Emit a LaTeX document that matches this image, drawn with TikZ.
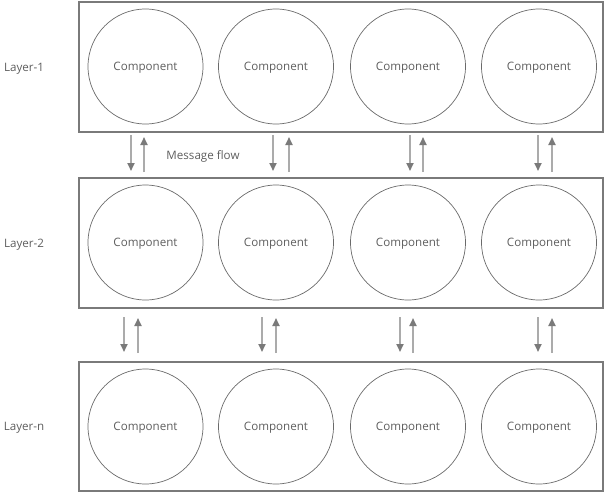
\documentclass[tikz,border=0pt]{standalone}
\usepackage{fontspec}
\setmainfont{Open Sans}
\usetikzlibrary{arrows.meta}
\definecolor{boxgrey}{HTML}{7A7A7A}
\definecolor{compgrey}{HTML}{6A6A6A}
\definecolor{textgrey}{HTML}{5E5E5E}
\definecolor{linegrey}{HTML}{ABABAB}
\definecolor{headgrey}{HTML}{7A7A7A}

\begin{document}
\begin{tikzpicture}[x=1pt,y=-1pt,
    layer/.style={draw=boxgrey,line width=2pt,minimum width=524pt,minimum height=130pt,inner sep=0pt},
    comp/.style={circle,draw=compgrey,line width=0.7pt,minimum size=115pt,inner sep=0pt,text depth=0pt,text=textgrey,font=\fontsize{11.6}{13}\selectfont},
    lab/.style={text=textgrey,text depth=0pt,font=\fontsize{11.6}{13}\selectfont},
    flow/.style={draw=linegrey,line width=1.8pt,-{Triangle[width=7pt,length=8pt,color=headgrey]}}]
    \useasboundingbox (0,0) rectangle (607,493);
    % layers
    \node[layer] (layer1) at (341,67) {};
    \node[layer] (layer2) at (341,243) {};
    \node[layer,minimum height=129pt] (layer3) at (341,426.5) {};
    \node[lab] (lab1) at (24,67) {Layer-1};
    \node[lab] (lab2) at (24,243) {Layer-2};
    \node[lab] (lab3) at (24,426) {Layer-n};
    % components
    \foreach \x [count=\i] in {145.5,276,408,539} {
        \node[comp] (c1\i) at (\x,66.5) {Component};
        \node[comp] (c2\i) at (\x,242.5) {Component};
        \node[comp] (c3\i) at (\x,426.5) {Component};
    }
    % message flow
    \foreach \xd/\xu in {131/144,273/289,410/423,538/552} {
        \draw[flow,shorten <=2pt,shorten >=6pt] (layer1.south -| \xd,0) -- (layer2.north -| \xd,0);
        \draw[flow,shorten <=5pt,shorten >=4pt] (layer2.north -| \xu,0) -- (layer1.south -| \xu,0);
    }
    \foreach \xd/\xu in {124/138,262/276,400/413,538/552} {
        \draw[flow,shorten <=8pt,shorten >=9pt] (layer2.south -| \xd,0) -- (layer3.north -| \xd,0);
        \draw[flow,shorten <=8pt,shorten >=9pt] (layer3.north -| \xu,0) -- (layer2.south -| \xu,0);
    }
    \node[lab] (msg) at (203,155.5) {Message flow};
\end{tikzpicture}
\end{document}
